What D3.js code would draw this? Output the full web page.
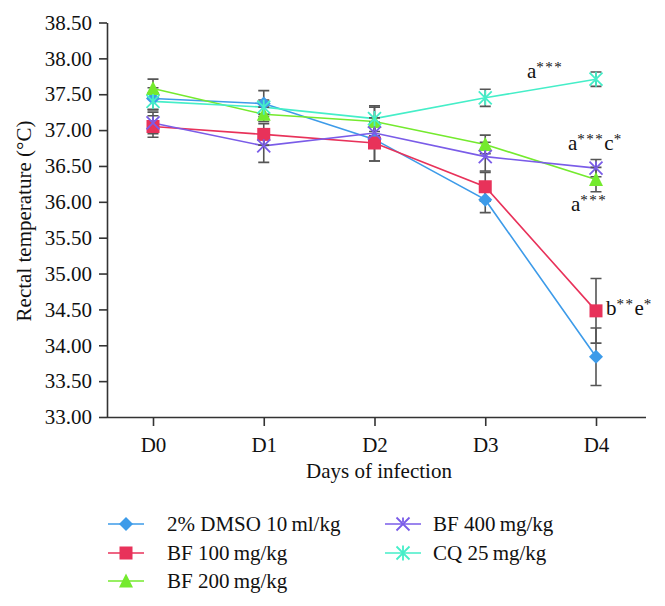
<!DOCTYPE html>
<html><head><meta charset="utf-8">
<script src="https://cdn.jsdelivr.net/npm/d3@7"></script>
<style>body{margin:0;background:#fff}svg{display:block}text{font-family:"Liberation Serif","DejaVu Serif",serif;fill:#111}</style>
</head><body>
<svg id="c" width="665" height="606"></svg>
<script>
const days = ["D0","D1","D2","D3","D4"];
const yTicks = [33,33.5,34,34.5,35,35.5,36,36.5,37,37.5,38,38.5];
const seriesNames = ["2% DMSO 10\u2009ml/kg","BF 100\u2009mg/kg","BF 200\u2009mg/kg","BF 400\u2009mg/kg","CQ 25\u2009mg/kg"];
const seriesColors = ["#3d9be9","#e8325a","#74ea2e","#7a5ce8","#45eec8"];
const seriesMarkers = ["diamond","square","triangle","cross","star"];
const dmsoMean = [37.44,37.37,36.87,36.03,33.84];
const dmsoErr  = [0.15,0.18,0.30,0.18,0.40];
const bf100Mean = [37.05,36.94,36.82,36.21,34.48];
const bf100Err  = [0.15,0.15,0.25,0.20,0.45];
const bf200Mean = [37.58,37.22,37.12,36.80,36.31];
const bf200Err  = [0.13,0.10,0.20,0.13,0.17];
const bf400Mean = [37.10,36.78,36.96,36.63,36.47];
const bf400Err  = [0.15,0.23,0.15,0.20,0.12];
const cqMean = [37.40,37.32,37.16,37.45,37.71];
const cqErr  = [0.12,0.10,0.18,0.12,0.10];
const means = [dmsoMean,bf100Mean,bf200Mean,bf400Mean,cqMean];
const errs = [dmsoErr,bf100Err,bf200Err,bf400Err,cqErr];
const annotations = [
  {day:"D4", value:37.71, parts:[["a",""],["***","sup"]], dx:-69, dy:-1},
  {day:"D4", value:36.47, parts:[["a",""],["***","sup"],["c",""],["*","sup"]], dx:-28, dy:-18},
  {day:"D4", value:36.31, parts:[["a",""],["***","sup"]], dx:-25, dy:31},
  {day:"D4", value:34.48, parts:[["b",""],["**","sup"],["e",""],["*","sup"]], dx:10, dy:4}
];

const svg = d3.select("#c");
const x = d3.scalePoint().domain(days).range([153,596]);
const y = d3.scaleLinear().domain([33,38.5]).range([417,22.5]);
const fs = 21;
const ff = '"Liberation Serif","DejaVu Serif",serif';

// axes
const yAxis = svg.append("g").attr("transform","translate(107,0)")
  .call(d3.axisLeft(y).tickValues(yTicks).tickFormat(d3.format(".2f")).tickSize(8).tickSizeOuter(0));
const xAxis = svg.append("g").attr("transform","translate(0,417)")
  .call(d3.axisBottom(x).tickSize(9).tickSizeOuter(0));
[yAxis,xAxis].forEach(a=>{
  a.attr("font-family",ff).attr("font-size",fs);
  a.select(".domain").attr("stroke","#333").attr("stroke-width",1.6);
  a.selectAll(".tick line").attr("stroke","#333").attr("stroke-width",1.6);
  a.selectAll("text").style("font-family",ff).style("font-size",fs+"px").attr("fill","#111");
});
xAxis.select(".domain").attr("d","M107,0.5H646");
yAxis.selectAll(".tick text").attr("x",-15);
xAxis.selectAll(".tick text").attr("dy","1.0em").attr("y",14);

svg.append("text").attr("transform","translate(31,221) rotate(-90)").attr("text-anchor","middle")
  .style("font-size",fs+"px").text("Rectal temperature (\u00B0C)");
svg.append("text").attr("x",379).attr("y",478).attr("text-anchor","middle")
  .style("font-size",fs+"px").text("Days of infection");

function drawMarker(g, type, color, cx, cy){
  const s = 6.5;
  if(type==="diamond"){
    g.append("path").attr("d",`M${cx},${cy-s-0.5}L${cx+s+0.5},${cy}L${cx},${cy+s+0.5}L${cx-s-0.5},${cy}Z`).attr("fill",color);
  } else if(type==="square"){
    g.append("rect").attr("x",cx-s).attr("y",cy-s).attr("width",2*s).attr("height",2*s).attr("fill",color);
  } else if(type==="triangle"){
    g.append("path").attr("d",`M${cx},${cy-s-1}L${cx+s+0.5},${cy+s}L${cx-s-0.5},${cy+s}Z`).attr("fill",color);
  } else if(type==="cross"){
    g.append("path").attr("d",`M${cx-s},${cy-s}L${cx+s},${cy+s}M${cx-s},${cy+s}L${cx+s},${cy-s}M${cx},${cy-s}L${cx},${cy-2}`).attr("stroke",color).attr("stroke-width",1.8).attr("fill","none");
  } else if(type==="star"){
    g.append("path").attr("d",`M${cx-s},${cy-s}L${cx+s},${cy+s}M${cx-s},${cy+s}L${cx+s},${cy-s}M${cx},${cy-s-1}L${cx},${cy+s+1}`).attr("stroke",color).attr("stroke-width",1.8).attr("fill","none");
  }
}

const line = d3.line().x((d,i)=>x(days[i])).y(d=>y(d));
const lineG = svg.append("g"), errG = svg.append("g"), markG = svg.append("g");
means.forEach((m,si)=>{
  lineG.append("path").datum(m).attr("d",line).attr("fill","none").attr("stroke",seriesColors[si]).attr("stroke-width",1.6);
  m.forEach((v,i)=>{
    const cx = x(days[i]), e = errs[si][i];
    const y1 = y(v+e), y2 = y(v-e);
    errG.append("path").attr("d",`M${cx},${y1}V${y2}M${cx-5.5},${y1}H${cx+5.5}M${cx-5.5},${y2}H${cx+5.5}`)
      .attr("stroke","#555").attr("stroke-width",1.6).attr("fill","none");
  });
});
means.forEach((m,si)=>{
  m.forEach((v,i)=> drawMarker(markG, seriesMarkers[si], seriesColors[si], x(days[i]), y(v)));
});

// annotations
annotations.forEach(a=>{
  const t = svg.append("text").attr("x",x(a.day)+a.dx).attr("y",y(a.value)+a.dy).style("font-size",fs+"px");
  a.parts.forEach(p=>{
    const ts = t.append("tspan").text(p[0]);
    if(p[1]==="sup") ts.attr("baseline-shift","38%").style("font-size","15px").style("letter-spacing","1.5px");
  });
});

// legend
const legPos = [[108,524],[108,553],[108,581],[385,524],[385,553]];
seriesNames.forEach((n,i)=>{
  const [lx,ly] = legPos[i];
  svg.append("line").attr("x1",lx).attr("x2",lx+36).attr("y1",ly).attr("y2",ly).attr("stroke",seriesColors[i]).attr("stroke-width",1.6);
  drawMarker(svg, seriesMarkers[i], seriesColors[i], lx+18, ly);
  svg.append("text").attr("x", i<3 ? 167 : 433).attr("y",ly+7).style("font-size",fs+"px").text(n);
});
</script>
</body></html>
